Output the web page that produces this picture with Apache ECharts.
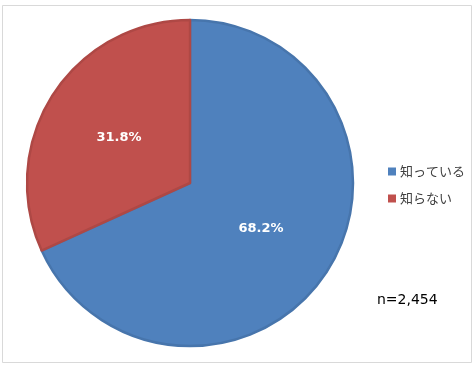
<!DOCTYPE html>
<html><head><meta charset="utf-8">
<script src="https://cdn.jsdelivr.net/npm/echarts@6/dist/echarts.min.js"></script>
<style>html,body{margin:0;padding:0;background:#fff}#c{width:474px;height:366px}</style>
</head><body><div id="c"></div>
<script>
const categories = ['知っている', '知らない'];
const values = [68.2, 31.8];
const colors = ['#4F81BD', '#C0504D'];
const borders = ['#4775AC', '#AE4845'];
const sampleNote = 'n=2,454';

const chart = echarts.init(document.getElementById('c'), null, {renderer: 'canvas'});
chart.setOption({
  animation: false,
  backgroundColor: '#fff',
  graphic: [
    {type: 'rect', shape: {x: 2.5, y: 5.5, width: 469, height: 357}, style: {fill: 'none', stroke: '#D9D9D9', lineWidth: 1}, z: -1},
    {type: 'text', left: 377, top: 293, style: {text: sampleNote, font: '14px "DejaVu Sans", sans-serif', fill: '#000'}}
  ],
  legend: {
    orient: 'vertical', left: 383, top: 160,
    icon: 'rect', itemWidth: 8, itemHeight: 8, itemGap: 14,
    itemStyle: {borderWidth: 0},
    textStyle: {fontFamily: '"Noto Sans CJK JP", sans-serif', fontSize: 13, color: '#404040', padding: [0,0,0,-1]},
    data: categories
  },
  series: [{
    type: 'pie',
    center: [190, 183], radius: 163,
    startAngle: 90, clockwise: true,
    label: {
      position: 'inside', color: '#fff', fontWeight: 'bold', fontSize: 13,
      fontFamily: '"DejaVu Sans", Verdana, sans-serif',
      formatter: p => p.value.toFixed(1) + '%'
    },
    labelLine: {show: false},
    emphasis: {disabled: true},
    data: categories.map((c, i) => ({
      name: c, value: values[i],
      itemStyle: {color: colors[i], borderColor: borders[i], borderWidth: 2.5}
    }))
  }]
});
</script></body></html>
